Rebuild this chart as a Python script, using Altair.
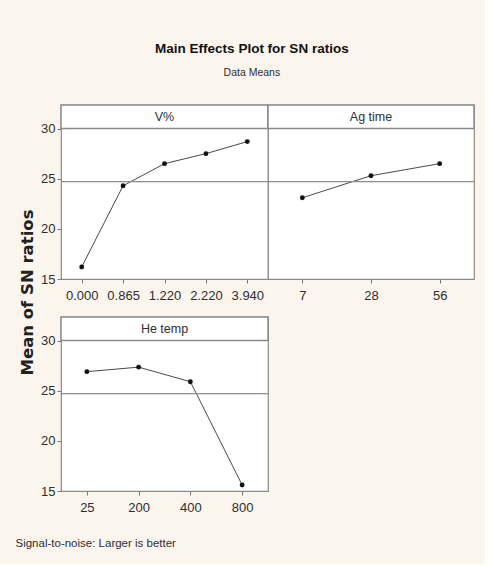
import altair as alt
import pandas as pd

# Main effects of each factor on the signal-to-noise ratio (larger is better)
v_levels = ["0.000", "0.865", "1.220", "2.220", "3.940"]
v_sn = [16.2, 24.3, 26.5, 27.5, 28.7]

ag_levels = ["7", "28", "56"]
ag_sn = [23.1, 25.3, 26.5]

he_levels = ["25", "200", "400", "800"]
he_sn = [26.9, 27.35, 25.9, 15.6]

grand_mean = 24.7
y_ticks = [15, 20, 25, 30]
y_top = 32.35          # upper edge of the factor-name strip
strip_bottom = 30
strip_mid = 31.2

FONT = "Liberation Sans"
BORDER = "#8a8a8a"
TXT = "#2e2e2e"


def panel(name, levels, sn, width, y_axis, x_title=None):
    df = pd.DataFrame({"level": levels, "sn": sn})
    label = pd.DataFrame({"t": [name]})
    axis_kw = dict(labelAngle=0, labelFont=FONT, labelFontSize=13, labelColor=TXT,
                   labelPadding=6.5, tickSize=4, tickColor="#777777",
                   domain=False, grid=False)
    if x_title:
        x_axis = alt.Axis(title=x_title, titleFont=FONT, titleFontSize=11.5,
                          titleFontWeight="normal", titleColor=TXT,
                          titleAnchor="start", titleAlign="left",
                          titleX=-46, titleY=46, **axis_kw)
    else:
        x_axis = alt.Axis(title=None, **axis_kw)

    x = alt.X("level:O", sort=levels,
              scale=alt.Scale(type="point", padding=0.5), axis=x_axis)
    y_scale = alt.Scale(domain=[15, y_top], nice=False, zero=False)
    y = alt.Y("sn:Q", scale=y_scale, axis=y_axis)

    # every layer carries the same y axis so the layered axes merge cleanly
    strip = alt.Chart(label).mark_rect(
        fill="white", stroke=BORDER, strokeWidth=1.5
    ).encode(y=alt.Y(datum=strip_bottom, scale=y_scale, axis=y_axis),
             y2=alt.datum(y_top))
    strip_text = alt.Chart(label).mark_text(
        font=FONT, fontSize=12.5, color=TXT
    ).encode(y=alt.Y(datum=strip_mid, scale=y_scale, axis=y_axis), text="t:N")
    mean_rule = alt.Chart(label).mark_rule(
        color="#8c8c8c", strokeWidth=1.2
    ).encode(y=alt.Y(datum=grand_mean, scale=y_scale, axis=y_axis))
    line = alt.Chart(df).mark_line(color="#4a4a4a", strokeWidth=1).encode(x=x, y=y)
    pts = alt.Chart(df).mark_circle(size=24, color="#111111", opacity=1).encode(x=x, y=y)

    return alt.layer(line, mean_rule, strip, strip_text, pts).properties(
        width=width, height=174
    )


def left_axis(title=None):
    kw = dict(values=y_ticks, labelFont=FONT, labelFontSize=13, labelColor=TXT,
              tickSize=4, tickColor="#777777", domain=False, grid=False)
    if title:
        return alt.Axis(title=title, titleFont="DejaVu Sans", titleFontSize=16.5,
                        titleFontWeight="bold", titleColor="#222222",
                        titleAngle=270, titleX=-26, titleY=187, **kw)
    return alt.Axis(title=None, **kw)


p_v = panel("V%", v_levels, v_sn, 207, left_axis("Mean of SN ratios"))
p_ag = panel("Ag time", ag_levels, ag_sn, 206, None)
p_he = panel("He temp", he_levels, he_sn, 207, left_axis(),
             x_title="Signal-to-noise: Larger is better")

chart = alt.concat(
    p_v, p_ag, p_he, columns=2, spacing={"row": 38, "column": 0}, bounds="flush"
).properties(
    title=alt.TitleParams(
        "Main Effects Plot for SN ratios",
        subtitle="Data Means",
        anchor="middle",
        font=FONT,
        fontSize=13.5,
        fontWeight="bold",
        color="#111111",
        subtitleFont=FONT,
        subtitleFontSize=10.5,
        subtitleColor=TXT,
        subtitlePadding=13,
        offset=25,
        dx=7,
    ),
    background="#fcf5ee",
    padding={"left": 14, "top": 41, "right": 9, "bottom": 14},
).configure_view(
    stroke=BORDER, strokeWidth=1.2, fill="white"
)

chart.save("out.html", embed_options={"renderer": "svg", "actions": False})
